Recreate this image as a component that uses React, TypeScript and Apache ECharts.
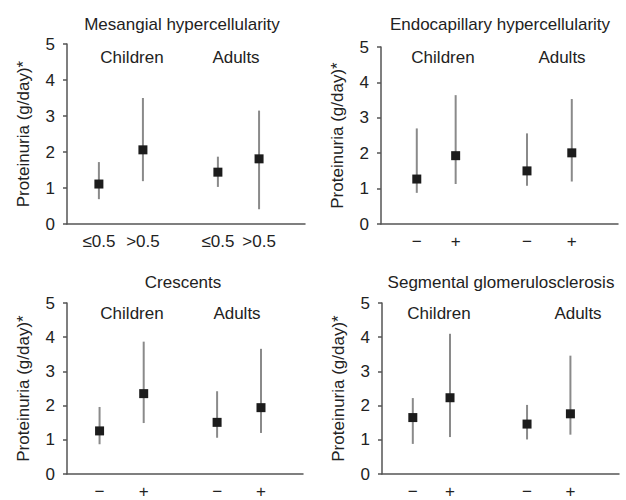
import React, { useEffect, useRef } from "react";
import * as echarts from "echarts";

const panelTitles = [
  "Mesangial hypercellularity",
  "Endocapillary hypercellularity",
  "Crescents",
  "Segmental glomerulosclerosis",
];
const groupNames = ["Children", "Adults"];
const mesangialCats = ["≤0.5", ">0.5", "≤0.5", ">0.5"];
const lesionCats = ["−", "+", "−", "+"];
const yAxisName = "Proteinuria (g/day)*";

const mesangialMedian = [1.11, 2.06, 1.44, 1.81];
const mesangialLow = [0.69, 1.19, 1.03, 0.41];
const mesangialHigh = [1.72, 3.5, 1.87, 3.15];

const endoMedian = [1.27, 1.93, 1.5, 2.01];
const endoLow = [0.88, 1.13, 1.08, 1.2];
const endoHigh = [2.7, 3.64, 2.56, 3.53];

const crescMedian = [1.26, 2.35, 1.51, 1.94];
const crescLow = [0.87, 1.49, 1.06, 1.2];
const crescHigh = [1.96, 3.87, 2.42, 3.66];

const segMedian = [1.65, 2.23, 1.46, 1.76];
const segLow = [0.88, 1.08, 1.01, 1.15];
const segHigh = [2.22, 4.1, 2.02, 3.46];

// category slot positions along each panel's x axis (0..10)
const xSlots = [
  [1.34, 3.19, 6.34, 8.07],
  [1.51, 3.15, 6.16, 8.05],
  [1.38, 3.25, 6.36, 8.22],
  [1.3, 2.87, 6.12, 7.95],
];

const panelData = [
  { cats: mesangialCats, med: mesangialMedian, low: mesangialLow, high: mesangialHigh },
  { cats: lesionCats, med: endoMedian, low: endoLow, high: endoHigh },
  { cats: lesionCats, med: crescMedian, low: crescLow, high: crescHigh },
  { cats: lesionCats, med: segMedian, low: segLow, high: segHigh },
];

// layout
const grids = [
  { left: 67, top: 44, width: 238, height: 180 },
  { left: 381, top: 47, width: 237, height: 177 },
  { left: 67, top: 303, width: 236, height: 177 },
  { left: 382, top: 303, width: 237, height: 177 },
];
const titlePos = [
  [182, 24],
  [500, 24],
  [183, 282],
  [501, 282],
];
const groupPos = [
  [[132, 57], [236, 57]],
  [[443, 57], [562, 57]],
  [[132, 313], [237, 313]],
  [[439, 313], [578, 313]],
];

const FONT = "'Liberation Sans', Arial, Helvetica, sans-serif";
const FS = 17;
const TEXT = "#222";
const AXIS = "#555";

export default function App() {
  const ref = useRef<HTMLDivElement>(null);
  useEffect(() => {
    if (!ref.current) return;
    const chart = echarts.init(ref.current, undefined, { renderer: "svg" });

    const xAxis: any[] = [];
    const yAxis: any[] = [];
    const series: any[] = [];
    const graphic: any[] = [];

    panelData.forEach((p, i) => {
      const slots = xSlots[i];
      xAxis.push({
        gridIndex: i,
        type: "value",
        min: 0,
        max: 10,
        axisLine: { show: true, lineStyle: { color: AXIS, width: 1.5 } },
        axisTick: { show: false },
        splitLine: { show: false },
        axisLabel: {
          customValues: slots,
          formatter: (v: number) => {
            let best = 0;
            slots.forEach((s, k) => {
              if (Math.abs(s - v) < Math.abs(slots[best] - v)) best = k;
            });
            return p.cats[best];
          },
          color: TEXT,
          fontSize: FS,
          fontFamily: FONT,
          margin: 9,
        },
      });
      yAxis.push({
        gridIndex: i,
        type: "value",
        min: 0,
        max: 5,
        interval: 1,
        name: yAxisName,
        nameLocation: "middle",
        nameGap: 35,
        nameTextStyle: { color: TEXT, fontSize: FS, fontFamily: FONT },
        axisLine: { show: true, lineStyle: { color: AXIS, width: 1.5 } },
        axisTick: { show: true, length: 4, lineStyle: { color: AXIS, width: 1.5 } },
        splitLine: { show: false },
        axisLabel: { color: TEXT, fontSize: FS, fontFamily: FONT, margin: 12 },
      });
      series.push({
        type: "custom",
        xAxisIndex: i,
        yAxisIndex: i,
        data: slots.map((x, k) => [x, p.low[k], p.high[k]]),
        encode: { x: 0, y: [1, 2] },
        renderItem: (_params: any, api: any) => {
          const top = api.coord([api.value(0), api.value(2)]);
          const bot = api.coord([api.value(0), api.value(1)]);
          return {
            type: "line",
            shape: { x1: top[0], y1: top[1], x2: bot[0], y2: bot[1] },
            style: { stroke: "#8a8a8a", lineWidth: 2 },
          };
        },
        z: 2,
      });
      series.push({
        type: "scatter",
        xAxisIndex: i,
        yAxisIndex: i,
        symbol: "rect",
        symbolSize: 9,
        itemStyle: { color: "#1c1c1c", opacity: 1 },
        data: slots.map((x, k) => [x, p.med[k]]),
        z: 3,
      });
      graphic.push({
        type: "text",
        x: titlePos[i][0],
        y: titlePos[i][1],
        style: {
          text: panelTitles[i],
          fill: TEXT,
          font: `${FS}px ${FONT}`,
          textAlign: "center",
          textVerticalAlign: "middle",
        },
      });
      groupNames.forEach((g, k) => {
        graphic.push({
          type: "text",
          x: groupPos[i][k][0],
          y: groupPos[i][k][1],
          style: {
            text: g,
            fill: TEXT,
            font: `${FS}px ${FONT}`,
            textAlign: "center",
            textVerticalAlign: "middle",
          },
        });
      });
    });

    chart.setOption({
      animation: false,
      backgroundColor: "#fff",
      grid: grids,
      xAxis,
      yAxis,
      series,
      graphic,
    });
    return () => chart.dispose();
  }, []);
  return (
    <div
      ref={ref}
      style={{ position: "fixed", left: 0, top: 0, width: 626, height: 500 }}
    />
  );
}
